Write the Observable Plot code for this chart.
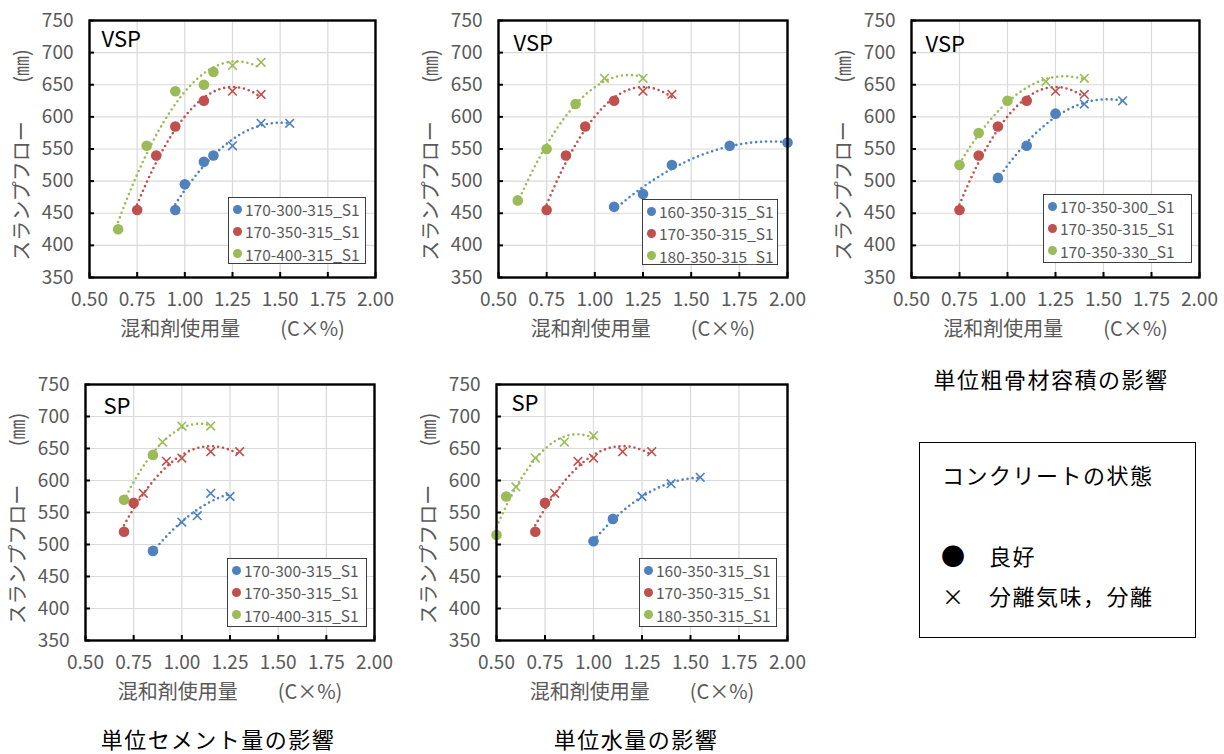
<!DOCTYPE html>
<html>
<head>
<meta charset="utf-8">
<script src="https://cdn.jsdelivr.net/npm/d3@7"></script>
<script src="https://cdn.jsdelivr.net/npm/@observablehq/plot@0.6"></script>
<style>
  body { margin: 0; background: #fff; }
  #wrap { position: relative; width: 1224px; height: 754px; overflow: hidden; background: #fff;
          font-family: 'Noto Sans CJK JP', 'Noto Sans', sans-serif; }
  .panel { position: absolute; }
  .lg { position: absolute; box-sizing: border-box; border: 1px solid #3f3f3f; background: #fff;
        font-size: 15.5px; color: #595959; }
  .lg .row { position: relative; height: 22.3px; line-height: 22.3px; white-space: nowrap; }
  .lg .sw { position: absolute; width: 9px; height: 9px; border-radius: 50%; top: 6.7px; }
  .lg .nm { position: absolute; }
  .cap { position: absolute; transform: translate(-50%, -50%); font-size: 22px; line-height: 1; letter-spacing: 1.5px;
         color: #000; white-space: nowrap; }
  .box { position: absolute; box-sizing: border-box; border: 1px solid #000; background: #fff; color: #000;
         font-size: 22px; letter-spacing: 1.5px; }
  .box span { position: absolute; white-space: nowrap; transform: translateY(-50%); line-height: 1.2; }
</style>
</head>
<body>
<div id="wrap"></div>
<script>
// ---------- shared axis definitions ----------
const xTicks = [0.5, 0.75, 1.0, 1.25, 1.5, 1.75, 2.0];
const xTickLabels = ["0.50", "0.75", "1.00", "1.25", "1.50", "1.75", "2.00"];
const yTicks = [350, 400, 450, 500, 550, 600, 650, 700, 750];
const yTickLabels = ["350", "400", "450", "500", "550", "600", "650", "700", "750"];
const xTitle = "混和剤使用量　　(C×%)";
const yTitleMain = "スランプフロー";
const yTitleUnit = "(㎜)";
const seriesColors = ["#4F81BD", "#C0504D", "#9BBB59"];

// concrete state
const G = "良好";
const S = "分離気味，分離";

// ---------- panel 1 (VSP) ----------
const p1Names = ["170-300-315_S1", "170-350-315_S1", "170-400-315_S1"];
const p1_170_300_315 = [[0.95,455,G],[1.00,495,G],[1.10,530,G],[1.15,540,G],[1.25,555,S],[1.40,590,S],[1.55,590,S]];
const p1_170_350_315 = [[0.75,455,G],[0.85,540,G],[0.95,585,G],[1.10,625,G],[1.25,640,S],[1.40,635,S]];
const p1_170_400_315 = [[0.65,425,G],[0.80,555,G],[0.95,640,G],[1.10,650,G],[1.15,670,G],[1.25,680,S],[1.40,685,S]];

// ---------- panel 2 (VSP) ----------
const p2Names = ["160-350-315_S1", "170-350-315_S1", "180-350-315_S1"];
const p2_160_350_315 = [[1.10,460,G],[1.25,480,G],[1.40,525,G],[1.70,555,G],[2.00,560,G]];
const p2_170_350_315 = [[0.75,455,G],[0.85,540,G],[0.95,585,G],[1.10,625,G],[1.25,640,S],[1.40,635,S]];
const p2_180_350_315 = [[0.60,470,G],[0.75,550,G],[0.90,620,G],[1.05,660,S],[1.25,660,S]];

// ---------- panel 3 (VSP) ----------
const p3Names = ["170-350-300_S1", "170-350-315_S1", "170-350-330_S1"];
const p3_170_350_300 = [[0.95,505,G],[1.10,555,G],[1.25,605,G],[1.40,620,S],[1.60,625,S]];
const p3_170_350_315 = [[0.75,455,G],[0.85,540,G],[0.95,585,G],[1.10,625,G],[1.25,640,S],[1.40,635,S]];
const p3_170_350_330 = [[0.75,525,G],[0.85,575,G],[1.00,625,G],[1.20,655,S],[1.40,660,S]];

// ---------- panel 4 (SP) ----------
const p4Names = ["170-300-315_S1", "170-350-315_S1", "170-400-315_S1"];
const p4_170_300_315 = [[0.85,490,G],[1.00,535,S],[1.08,545,S],[1.15,580,S],[1.25,575,S]];
const p4_170_350_315 = [[0.70,520,G],[0.75,565,G],[0.80,580,S],[0.92,630,S],[1.00,635,S],[1.15,645,S],[1.30,645,S]];
const p4_170_400_315 = [[0.70,570,G],[0.85,640,G],[0.90,660,S],[1.00,685,S],[1.15,685,S]];

// ---------- panel 5 (SP) ----------
const p5Names = ["160-350-315_S1", "170-350-315_S1", "180-350-315_S1"];
const p5_160_350_315 = [[1.00,505,G],[1.10,540,G],[1.25,575,S],[1.40,595,S],[1.55,605,S]];
const p5_170_350_315 = [[0.70,520,G],[0.75,565,G],[0.80,580,S],[0.92,630,S],[1.00,635,S],[1.15,645,S],[1.30,645,S]];
const p5_180_350_315 = [[0.50,515,G],[0.55,575,G],[0.60,590,S],[0.70,635,S],[0.85,660,S],[1.00,670,S]];

// text
const tags = ["VSP", "VSP", "VSP", "SP", "SP"];
const captions = ["単位粗骨材容積の影響", "単位セメント量の影響", "単位水量の影響"];
const boxTitle = "コンクリートの状態";
const boxGood = "良好";
const boxSep = "分離気味，分離";

// ---------- layout (pixels) ----------
const ML = 89, MT = 20, MR = 15, MB = 75;
const layout = [
  {left: 89,  top: 20,  w: 286, h: 257, tagDx: 12, tagDy: 11, lg: [228, 197, 138, 67]},
  {left: 498, top: 20,  w: 289, h: 257, tagDx: 15, tagDy: 15, lg: [642, 199, 136, 66]},
  {left: 911, top: 20,  w: 288, h: 257, tagDx: 14, tagDy: 16, lg: [1043, 194, 149, 69]},
  {left: 85,  top: 384, w: 289, h: 256, tagDx: 18, tagDy: 14, lg: [227, 558, 140, 69]},
  {left: 496, top: 384, w: 291, h: 256, tagDx: 15, tagDy: 11, lg: [639, 558, 138, 69]}
];
const panels = [
  {names: p1Names, series: [p1_170_300_315, p1_170_350_315, p1_170_400_315]},
  {names: p2Names, series: [p2_160_350_315, p2_170_350_315, p2_180_350_315]},
  {names: p3Names, series: [p3_170_350_300, p3_170_350_315, p3_170_350_330]},
  {names: p4Names, series: [p4_170_300_315, p4_170_350_315, p4_170_400_315]},
  {names: p5Names, series: [p5_160_350_315, p5_170_350_315, p5_180_350_315]}
];

// least-squares 2nd-order polynomial trendline (like the spreadsheet's trendline)
function quadFit(pts) {
  let s = [0,0,0,0,0], t = [0,0,0];
  for (const [x, y] of pts) {
    for (let k = 0; k < 5; k++) s[k] += Math.pow(x, k);
    for (let k = 0; k < 3; k++) t[k] += y * Math.pow(x, k);
  }
  const A = [[s[0],s[1],s[2],t[0]],[s[1],s[2],s[3],t[1]],[s[2],s[3],s[4],t[2]]];
  for (let i = 0; i < 3; i++) {
    let p = i;
    for (let r = i + 1; r < 3; r++) if (Math.abs(A[r][i]) > Math.abs(A[p][i])) p = r;
    [A[i], A[p]] = [A[p], A[i]];
    for (let r = 0; r < 3; r++) if (r !== i) {
      const f = A[r][i] / A[i][i];
      for (let c = i; c < 4; c++) A[r][c] -= f * A[i][c];
    }
  }
  return [A[0][3]/A[0][0], A[1][3]/A[1][1], A[2][3]/A[2][2]];
}

const wrap = document.getElementById("wrap");

panels.forEach((p, pi) => {
  const L = layout[pi];
  const rows = p.series.flatMap((s, i) => s.map(([x, y, st]) => ({x, y, st, name: p.names[i]})));
  const curves = p.series.flatMap((s, i) => {
    const c = quadFit(s);
    const x0 = d3.min(s, d => d[0]), x1 = d3.max(s, d => d[0]);
    return d3.range(101).map(k => {
      const x = x0 + (x1 - x0) * k / 100;
      return {x, y: c[0] + c[1] * x + c[2] * x * x, name: p.names[i]};
    });
  });
  const chart = Plot.plot({
    width: ML + L.w + MR,
    height: MT + L.h + MB,
    marginLeft: ML, marginTop: MT, marginRight: MR, marginBottom: MB,
    x: {domain: [0.5, 2.0]},
    y: {domain: [350, 750]},
    color: {domain: p.names, range: seriesColors},
    style: {fontFamily: "'Noto Sans CJK JP', 'Noto Sans', sans-serif", fontSize: "19px", color: "#595959", background: "transparent", overflow: "visible"},
    marks: [
      Plot.gridX(xTicks, {stroke: "#d9d9d9", strokeOpacity: 1, strokeWidth: 1.2}),
      Plot.gridY(yTicks, {stroke: "#d9d9d9", strokeOpacity: 1, strokeWidth: 1.2}),
      Plot.line(curves, {x: "x", y: "y", z: "name", stroke: "name", strokeWidth: 2.6,
                         strokeDasharray: "0 5", strokeLinecap: "round"}),
      Plot.dot(rows.filter(d => d.st === G), {x: "x", y: "y", fill: "name", r: 5.3}),
      Plot.dot(rows.filter(d => d.st === S), {x: "x", y: "y", stroke: "name", symbol: "times", r: 4, strokeWidth: 1.6}),
      Plot.axisX(xTicks, {tickSize: 0, tickPadding: 15, fontSize: 19, label: null,
                          tickFormat: d => xTickLabels[xTicks.indexOf(d)]}),
      Plot.axisY(yTicks, {tickSize: 0, tickPadding: 16, fontSize: 19, label: null,
                          tickFormat: d => yTickLabels[yTicks.indexOf(d)]}),
      Plot.axisX(xTicks, {tickSize: 5, dy: -5, tickFormat: () => "", label: null, stroke: "black", strokeWidth: 2}),
      Plot.axisY(yTicks, {tickSize: 5, dx: 5, tickFormat: () => "", label: null, stroke: "black", strokeWidth: 2}),
      Plot.frame({stroke: "black", strokeWidth: 2.4}),
      Plot.text([tags[pi]], {text: d => d, frameAnchor: "top-left", dx: L.tagDx, dy: L.tagDy,
                             lineAnchor: "top", textAnchor: "start", fontSize: 22, fill: "black"}),
      Plot.text([xTitle], {text: d => d, frameAnchor: "bottom", dy: 58, textAnchor: "middle", fontSize: 20, fill: "#595959"}),
      Plot.text([yTitleMain], {text: d => d, frameAnchor: "left", dx: -67, dy: 42, rotate: -90,
                               textAnchor: "middle", fontSize: 20, fill: "#595959"}),
      Plot.text([yTitleUnit], {text: d => d, frameAnchor: "left", dx: -67, dy: -83, rotate: -90,
                               textAnchor: "middle", fontSize: 20, fill: "#595959"})
    ]
  });
  const holder = document.createElement("div");
  holder.className = "panel";
  holder.style.left = (L.left - ML) + "px";
  holder.style.top = (L.top - MT) + "px";
  holder.appendChild(chart);
  wrap.appendChild(holder);

  // series legend inside the plot area
  const [lx, ly, lw, lh] = L.lg;
  const lg = document.createElement("div");
  lg.className = "lg";
  Object.assign(lg.style, {left: lx + "px", top: ly + "px", width: lw + "px", height: lh + "px"});
  p.names.forEach((n, i) => {
    const row = document.createElement("div");
    row.className = "row";
    const sw = document.createElement("span");
    sw.className = "sw";
    sw.style.left = "4px";
    sw.style.background = seriesColors[i];
    const nm = document.createElement("span");
    nm.className = "nm";
    nm.style.left = "16px";
    nm.textContent = n;
    row.appendChild(sw); row.appendChild(nm);
    lg.appendChild(row);
  });
  wrap.appendChild(lg);
});

// captions
const capPos = [[1051, 378], [218, 738], [636, 738]];
captions.forEach((c, i) => {
  const d = document.createElement("div");
  d.className = "cap";
  d.style.left = capPos[i][0] + "px";
  d.style.top = capPos[i][1] + "px";
  d.textContent = c;
  wrap.appendChild(d);
});

// state legend box
const box = document.createElement("div");
box.className = "box";
Object.assign(box.style, {left: "919px", top: "442px", width: "277px", height: "196px"});
const items = [
  [boxTitle, 22, 31, 22],
  ["●", 21, 112, 24],
  [boxGood, 69, 112, 22],
  ["×", 22, 152, 22],
  [boxSep, 69, 152, 22]
];
items.forEach(([t, x, y, fs]) => {
  const s = document.createElement("span");
  s.textContent = t;
  s.style.left = x + "px";
  s.style.top = y + "px";
  s.style.fontSize = fs + "px";
  box.appendChild(s);
});
wrap.appendChild(box);
</script>
</body>
</html>
